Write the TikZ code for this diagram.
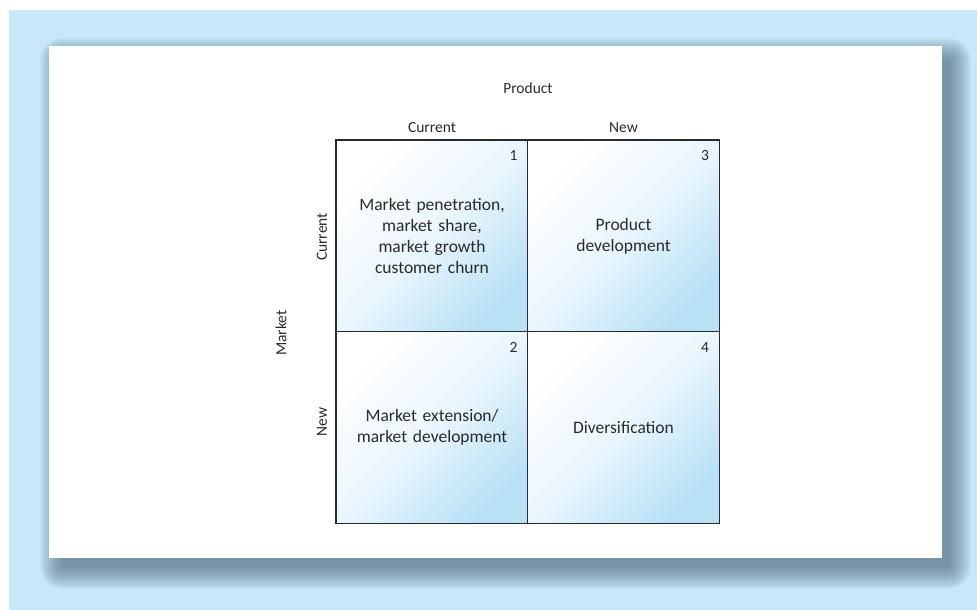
\documentclass[tikz,border=0pt]{standalone}
\usepackage{fontspec}
\setmainfont{Carlito}
\usetikzlibrary{positioning}

\definecolor{bgblue}{HTML}{C6E8F8}
\definecolor{shadowgrey}{HTML}{4E6878}
\definecolor{cellblue}{HTML}{B8E1F6}
\definecolor{cellmid}{HTML}{EAF6FD}
\definecolor{inkgrey}{HTML}{2A2A2A}

\tikzset{
  cell/.style={draw=inkgrey, line width=1.2pt, minimum width=192pt, minimum height=192pt,
    inner sep=0pt, top color=white, bottom color=cellblue, middle color=cellmid,
    shading angle=45, text width=170pt, align=center,
    font=\fontsize{17.5}{21}\selectfont, text=inkgrey},
  num/.style={inner sep=0pt, font=\fontsize{15.5}{16}\selectfont, text=inkgrey},
  axislabel/.style={inner sep=0pt, font=\fontsize{15.5}{16}\selectfont, text=inkgrey}
}

\begin{document}
\begin{tikzpicture}[x=1pt,y=-1pt]
        \useasboundingbox (0,0) rectangle (977,610);
        \fill[bgblue] (9,10) rectangle (977,610);

        % soft shadow of the panel
        \foreach \i in {0,...,12}
        {\fill[shadowgrey, opacity=0.07, rounded corners=\i*1.8pt]
          (62-1.8*\i,60-1.8*\i) rectangle (949+1.8*\i,567+1.8*\i);}
        \fill[white] (49,46) rectangle (942,558);

        \node (c1) [cell] at (432,236) {Market penetration,\\ market share,\\ market growth\\ customer churn};
        \node (c3) [cell] at (623.5,236) {Product\\ development};
        \node (c2) [cell] at (432,427.5) {Market extension/\\ market development};
        \node (c4) [cell] at (623.5,427.5) {Diversification};

        \node (n1) [num, below left=11pt and 11pt of c1.north east] {1};
        \node (n3) [num, below left=11pt and 11pt of c3.north east] {3};
        \node (n2) [num, below left=11pt and 11pt of c2.north east] {2};
        \node (n4) [num, below left=11pt and 11pt of c4.north east] {4};

        \node (prod) [axislabel] at (528,88) {Product};
        \node (pcur) [axislabel, above=7pt of c1] {Current};
        \node (pnew) [axislabel, above=7pt of c3] {New};

        \node (mkt) [axislabel, rotate=90] at (281,333) {Market};
        \node (mcur) [axislabel, rotate=90] at (322,237) {Current};
        \node (mnew) [axislabel, rotate=90] at (322,422) {New};
      \end{tikzpicture}
\end{document}
